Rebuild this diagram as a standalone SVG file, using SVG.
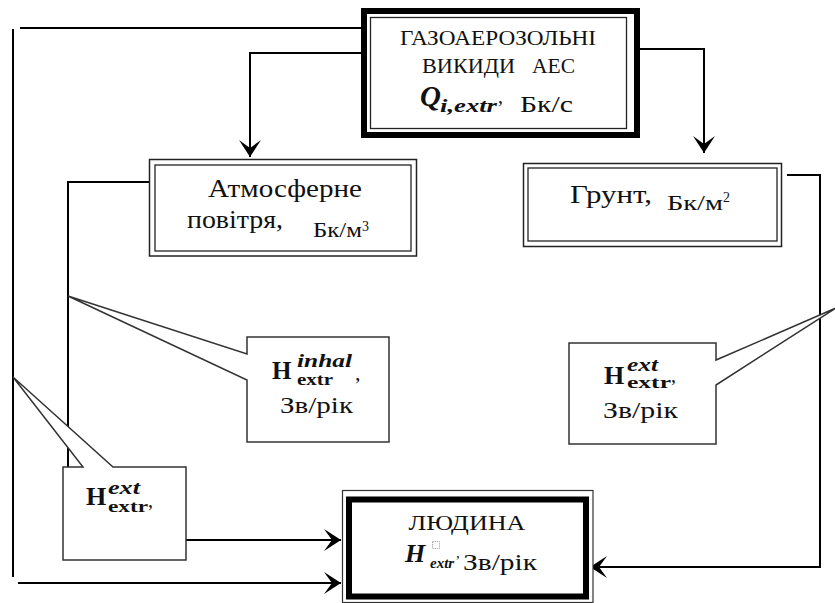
<svg xmlns="http://www.w3.org/2000/svg" width="835" height="603" viewBox="0 0 835 603">
<style>
.t{font-family:"Liberation Serif","Times New Roman",serif;fill:#111}
.m{font-family:"Liberation Serif","DejaVu Serif",serif;fill:#111;font-weight:bold}
.mi{font-family:"Liberation Serif","DejaVu Serif",serif;fill:#111;font-weight:bold;font-style:italic}
.c{fill:none;stroke:#000;stroke-width:2}
.call{fill:#fff;stroke:#333;stroke-width:1.5;stroke-linejoin:miter}
.dbl{fill:#fff;stroke:#222;stroke-width:1.5}
.thin{fill:none;stroke:#222;stroke-width:1.3}
.thick{fill:none;stroke:#000;stroke-width:6}
</style>
<defs>
<marker id="ah" markerUnits="userSpaceOnUse" markerWidth="20" markerHeight="24" refX="0" refY="0" viewBox="-18 -12 20 24" orient="auto" overflow="visible">
<path d="M0,0 L-17,-11 L-9,0 L-17,11 Z" fill="#000"/>
</marker>
</defs>
<rect width="835" height="603" fill="#fff"/>

<g id="connectors">
<path class="c" d="M20,28 H361"/>
<path class="c" d="M13,29 V577"/>
<path class="c" d="M18,583 H341" marker-end="url(#ah)"/>
<path class="c" d="M361,53 H250 V157" marker-end="url(#ah)"/>
<path class="c" d="M640,49 H704 V153" marker-end="url(#ah)"/>
<path class="c" d="M149,182 H68 V467"/>
<path class="c" d="M186,540 H341" marker-end="url(#ah)"/>
<path class="c" d="M787,175 H820 V567 H590" marker-end="url(#ah)"/>
</g>

<g id="emissions">
<rect x="361" y="8" width="279" height="130" fill="#fff"/>
<rect class="thick" x="364" y="11" width="273" height="124"/>
<rect class="thin" x="370.5" y="17.5" width="256" height="111"/>
<text class="t" x="400" y="45" font-size="20" textLength="196" lengthAdjust="spacingAndGlyphs">ГАЗОАЕРОЗОЛЬНІ</text>
<text class="t" x="422" y="73" font-size="20" textLength="93" lengthAdjust="spacingAndGlyphs">ВИКИДИ</text>
<text class="t" x="532" y="73" font-size="20" textLength="43" lengthAdjust="spacingAndGlyphs">АЕС</text>
<text class="mi" x="420" y="106" font-size="29">Q</text>
<text class="mi" x="440" y="112" font-size="18" textLength="57" lengthAdjust="spacingAndGlyphs">i,extr</text>
<text class="t" x="498" y="103" font-size="20">,</text>
<text class="t" x="520" y="112" font-size="23" textLength="53" lengthAdjust="spacingAndGlyphs">Бк/с</text>
</g>

<g id="air">
<rect class="dbl" x="149.5" y="159.5" width="267" height="96.5"/>
<rect class="thin" x="155" y="165" width="256" height="86"/>
<text class="t" x="208" y="197" font-size="25" textLength="154" lengthAdjust="spacingAndGlyphs">Атмосферне</text>
<text class="t" x="187" y="228" font-size="25" textLength="96" lengthAdjust="spacingAndGlyphs">повітря,</text>
<text class="t" x="313" y="237" font-size="21" textLength="49" lengthAdjust="spacingAndGlyphs">Бк/м</text>
<text class="t" x="362" y="231" font-size="14">3</text>
</g>

<g id="soil">
<rect class="dbl" x="523.5" y="163.5" width="258" height="83"/>
<rect class="thin" x="528" y="168" width="249" height="73"/>
<text class="t" x="570" y="203" font-size="25" textLength="82" lengthAdjust="spacingAndGlyphs">Грунт,</text>
<text class="t" x="667" y="210" font-size="20" textLength="56" lengthAdjust="spacingAndGlyphs">Бк/м</text>
<text class="t" x="723" y="202" font-size="14">2</text>
</g>

<g id="human">
<rect x="342.5" y="490.5" width="250.5" height="112" fill="#fff" stroke="#333" stroke-width="1.2"/>
<rect class="thick" x="349" y="499.5" width="237" height="97"/>
<text class="t" x="467" y="530" font-size="22" text-anchor="middle" textLength="117" lengthAdjust="spacingAndGlyphs">ЛЮДИНА</text>
<text class="mi" x="405" y="562" font-size="26">H</text>
<rect x="432.5" y="541.5" width="7" height="7" fill="none" stroke="#888" stroke-width="0.8" stroke-dasharray="1.2,1"/>
<text class="mi" x="430" y="568" font-size="15">extr</text>
<text class="t" x="456" y="558" font-size="15">,</text>
<text class="t" x="463" y="570" font-size="23" textLength="74" lengthAdjust="spacingAndGlyphs">Зв/рік</text>
</g>

<g id="callout-inhal">
<path class="call" d="M247,337 H389 V442 H247 V380 L68,296 L247,354 Z"/>
<text class="m" x="272" y="379" font-size="25">H</text>
<text class="mi" x="297" y="367" font-size="19" textLength="55" lengthAdjust="spacingAndGlyphs">inhal</text>
<text class="m" x="297" y="385" font-size="17" textLength="36" lengthAdjust="spacingAndGlyphs">extr</text>
<text class="t" x="355" y="380" font-size="22">,</text>
<text class="t" x="280" y="413" font-size="23" textLength="73" lengthAdjust="spacingAndGlyphs">Зв/рік</text>
</g>

<g id="callout-ext-soil">
<path class="call" d="M569,343 H716 V360 L836,308 L716,385 V444 H569 Z"/>
<text class="m" x="604" y="384" font-size="26">H</text>
<text class="mi" x="627" y="371" font-size="19" textLength="31" lengthAdjust="spacingAndGlyphs">ext</text>
<text class="m" x="627" y="388" font-size="17" textLength="44" lengthAdjust="spacingAndGlyphs">extr</text>
<text class="t" x="671" y="382" font-size="20">,</text>
<text class="t" x="603" y="418" font-size="23" textLength="75" lengthAdjust="spacingAndGlyphs">Зв/рік</text>
</g>

<g id="callout-ext-air">
<path class="call" d="M63,467 H83 L13,377 L113,467 H186 V560 H63 Z"/>
<text class="m" x="86" y="505" font-size="26">H</text>
<text class="mi" x="108" y="494" font-size="18" textLength="32" lengthAdjust="spacingAndGlyphs">ext</text>
<text class="m" x="108" y="512" font-size="17" textLength="40" lengthAdjust="spacingAndGlyphs">extr</text>
<text class="t" x="148" y="507" font-size="20">,</text>
</g>
</svg>
